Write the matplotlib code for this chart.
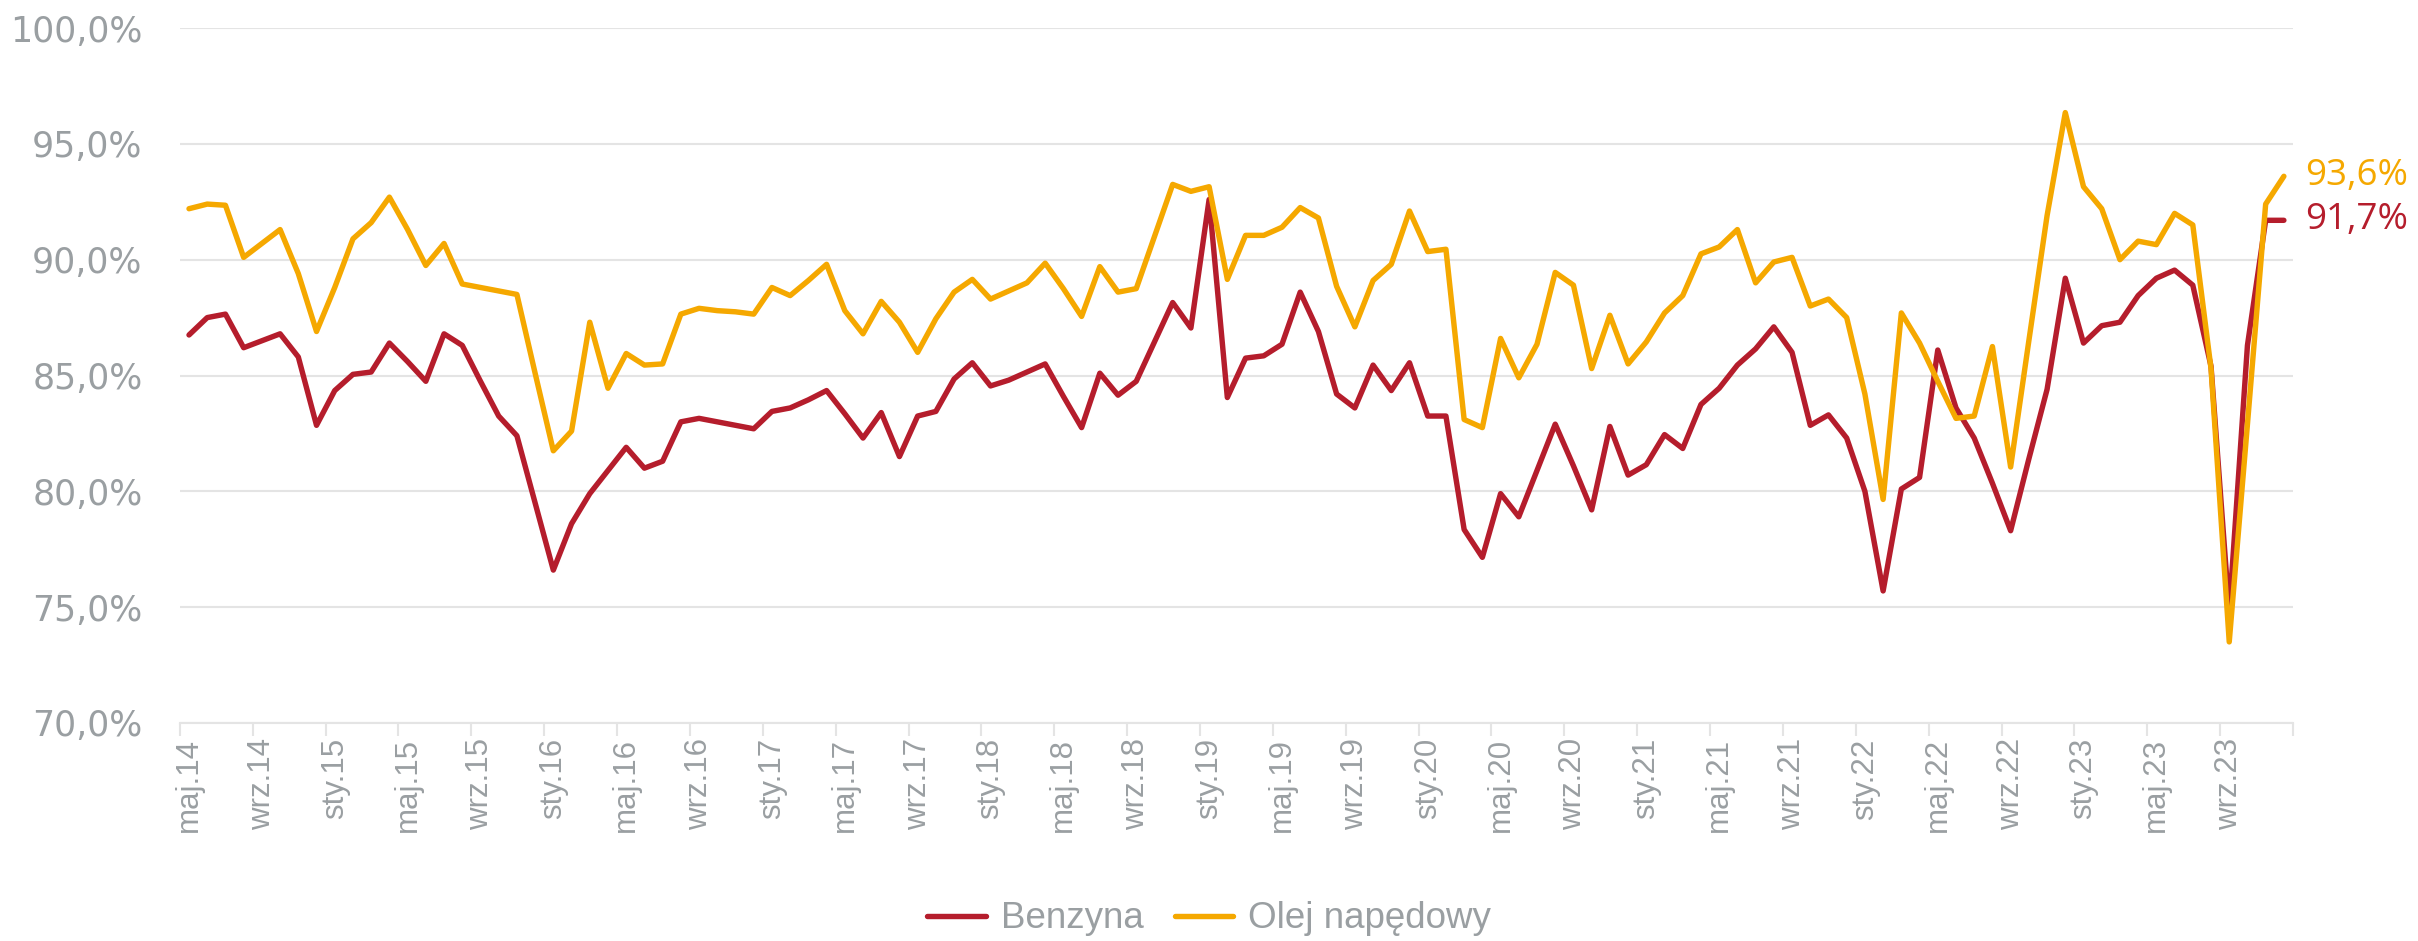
import matplotlib
matplotlib.use("Agg")
import matplotlib.pyplot as plt
import numpy as np
from matplotlib.font_manager import FontProperties

# Monthly series, May 2014 - Dec 2023 (%)
benzyna = [
    86.75, 87.5, 87.65, 86.2, 86.5, 86.8, 85.8, 82.85, 84.35, 85.05, 85.15, 86.4,
    85.6, 84.75, 86.8, 86.3, 84.75, 83.25, 82.4, 79.5, 76.6, 78.6, 79.9, 80.9,
    81.9, 81.0, 81.3, 83.0, 83.15, 83.0, 82.85, 82.7, 83.45, 83.6, 83.95, 84.35,
    83.35, 82.3, 83.4, 81.5, 83.25, 83.45, 84.85, 85.55, 84.55, 84.8, 85.15, 85.5,
    84.1, 82.75, 85.1, 84.15, 84.75, 86.45, 88.15, 87.05, 92.6, 84.05, 85.75, 85.85,
    86.35, 88.6, 86.9, 84.2, 83.6, 85.45, 84.35, 85.55, 83.25, 83.25, 78.35, 77.15,
    79.9, 78.9, 80.9, 82.9, 81.1, 79.2, 82.8, 80.7, 81.15, 82.45, 81.85, 83.75,
    84.45, 85.45, 86.15, 87.1, 86.0, 82.85, 83.3, 82.3, 80.0, 75.7, 80.1, 80.6,
    86.1, 83.6, 82.3, 80.35, 78.3, 81.4, 84.4, 89.2, 86.4, 87.15, 87.3, 88.45,
    89.2, 89.55, 88.9, 85.4, 74.8, 86.3, 91.7, 91.7,
]
olej = [
    92.2, 92.4, 92.35, 90.1, 90.7, 91.3, 89.4, 86.9, 88.8, 90.9, 91.6, 92.7,
    91.3, 89.75, 90.7, 88.95, 88.8, 88.65, 88.5, 85.1, 81.75, 82.6, 87.3, 84.45,
    85.95, 85.45, 85.5, 87.65, 87.9, 87.8, 87.75, 87.65, 88.8, 88.45, 89.1, 89.8,
    87.8, 86.8, 88.2, 87.3, 86.0, 87.45, 88.6, 89.15, 88.3, 88.65, 89.0, 89.85,
    88.75, 87.55, 89.7, 88.6, 88.75, 91.0, 93.25, 92.95, 93.15, 89.15, 91.05, 91.05,
    91.4, 92.25, 91.8, 88.85, 87.1, 89.1, 89.8, 92.1, 90.35, 90.45, 83.1, 82.75,
    86.6, 84.9, 86.35, 89.45, 88.9, 85.3, 87.6, 85.5, 86.45, 87.7, 88.45, 90.25,
    90.55, 91.3, 89.0, 89.9, 90.1, 88.0, 88.3, 87.5, 84.2, 79.65, 87.7, 86.4,
    84.75, 83.15, 83.25, 86.25, 81.05, 86.5, 91.9, 96.35, 93.15, 92.2, 90.0, 90.8,
    90.65, 92.0, 91.5, 85.3, 73.5, 82.9, 92.4, 93.6,
]
tick_labels = [
    "maj.14", "wrz.14", "sty.15", "maj.15", "wrz.15", "sty.16", "maj.16", "wrz.16",
    "sty.17", "maj.17", "wrz.17", "sty.18", "maj.18", "wrz.18", "sty.19", "maj.19",
    "wrz.19", "sty.20", "maj.20", "wrz.20", "sty.21", "maj.21", "wrz.21", "sty.22",
    "maj.22", "wrz.22", "sty.23", "maj.23", "wrz.23",
]
y_ticks = [70, 75, 80, 85, 90, 95, 100]
series_names = ["Benzyna", "Olej napędowy"]
end_labels = ["91,7%", "93,6%"]

RED = "#B51D2C"
ORANGE = "#F5A800"
GRID = "#E4E4E4"
TEXT = "#9A9FA2"
SANS = ["Liberation Sans", "DejaVu Sans"]

fig = plt.figure(figsize=(24.18, 9.41), dpi=100)
ax = fig.add_axes([0.0744, 0.2317, 0.8739, 0.7385])

x = np.arange(len(benzyna))
line_kw = dict(lw=3.9, solid_joinstyle="round", solid_capstyle="round")
l1, = ax.plot(x, benzyna, color=RED, label=series_names[0], zorder=3, **line_kw)
l2, = ax.plot(x, olej, color=ORANGE, label=series_names[1], zorder=4, **line_kw)

ax.set_xlim(-0.5, len(x) - 0.5)
ax.set_ylim(y_ticks[0], y_ticks[-1])

# y axis
ax.set_yticks(y_ticks)
ax.set_yticklabels([f"{v:.1f}%".replace(".", ",") for v in y_ticks])
ax.tick_params(axis="y", length=0, pad=27, labelsize=25, labelcolor=TEXT)
ax.yaxis.grid(True, color=GRID, lw=1.5)
ax.set_axisbelow(True)

for s in ["top", "right", "left"]:
    ax.spines[s].set_visible(False)
ax.spines["bottom"].set_color(GRID)
ax.spines["bottom"].set_linewidth(1.5)

# x axis: tick marks on category boundaries, labels on categories
ax.set_xticks(np.arange(-0.5, len(x), 4))
ax.set_xticklabels([])
ax.tick_params(axis="x", which="major", length=9.4, width=1.5, color=GRID)
ax.set_xticks(np.arange(0, len(x), 4)[:len(tick_labels)], minor=True)
ax.set_xticklabels(tick_labels, minor=True, rotation=90, fontsize=22.5,
                   color=TEXT, family=SANS)
ax.tick_params(axis="x", which="minor", length=0, pad=11)

# end-of-series value labels
for vals, txt, col in [(benzyna, end_labels[0], RED), (olej, end_labels[1], ORANGE)]:
    ax.annotate(txt, xy=(x[-1], vals[-1]), xytext=(15, 0), textcoords="offset points",
                ha="left", va="center", fontsize=26.5, color=col,
                family=["Open Sans", "DejaVu Sans"], annotation_clip=False)

leg = fig.legend(handles=[l1, l2], loc="center", bbox_to_anchor=(0.5, 0.0234),
                 ncol=2, frameon=False, handlelength=1.6, handletextpad=0.4,
                 columnspacing=0.85, prop=FontProperties(family=SANS, size=26.5),
                 labelcolor=TEXT)

fig.savefig("out.png", dpi=100)
